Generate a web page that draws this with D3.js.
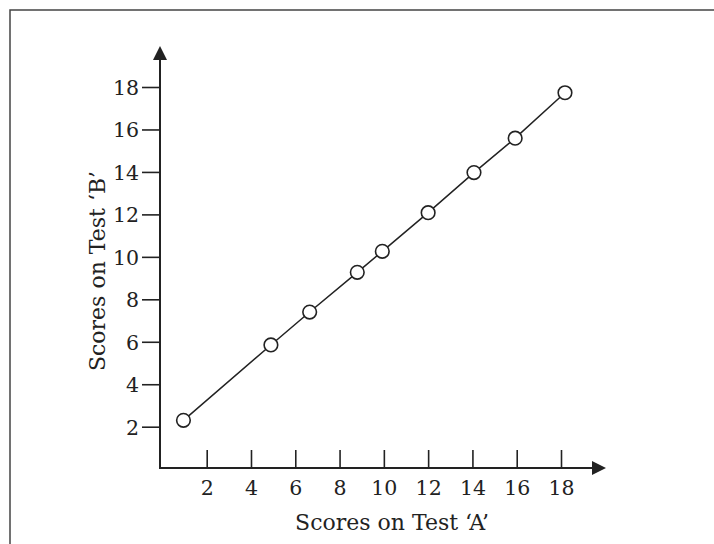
<!DOCTYPE html>
<html>
<head>
<meta charset="utf-8">
<script src="https://cdn.jsdelivr.net/npm/d3@7"></script>
<style>
  body { margin: 0; background: #fff; }
  text { font-family: "DejaVu Serif", "Liberation Serif", serif; fill: #222; }
</style>
</head>
<body>
<div id="chart"></div>
<script>
// scores
var scoresA = [0.95, 4.9, 6.65, 8.8, 9.93, 12.0, 14.07, 15.93, 18.18];
var scoresB = [2.3, 5.85, 7.4, 9.27, 10.26, 12.08, 13.97, 15.59, 17.73];
var xTicks = [2, 4, 6, 8, 10, 12, 14, 16, 18];
var yTicks = [2, 4, 6, 8, 10, 12, 14, 16, 18];
var xTitle = "Scores on Test \u2018A\u2019";
var yTitle = "Scores on Test \u2018B\u2019";

var width = 714, height = 544;
var ink = "#222";

var svg = d3.select("#chart").append("svg")
	.attr("width", width).attr("height", height);

// frame (only left and top edges show in the picture)
svg.append("rect")
	.attr("x", 10).attr("y", 10)
	.attr("width", width).attr("height", height)
	.attr("fill", "none").attr("stroke", "#444").attr("stroke-width", 1.5);

var originX = 160, originY = 468;

var x = d3.scaleLinear().domain([2, 18]).range([206.7, 561]);
var y = d3.scaleLinear().domain([2, 18]).range([426.7, 87]);

// axis lines
svg.append("line")
	.attr("x1", originX).attr("y1", originY)
	.attr("x2", originX).attr("y2", 58)
	.attr("stroke", ink).attr("stroke-width", 2);
svg.append("line")
	.attr("x1", originX - 1).attr("y1", originY)
	.attr("x2", 594).attr("y2", originY)
	.attr("stroke", ink).attr("stroke-width", 2);

// arrow heads
svg.append("path")
	.attr("d", "M" + originX + ",46 L" + (originX - 7) + ",60 L" + (originX + 7) + ",60 Z")
	.attr("fill", ink);
svg.append("path")
	.attr("d", "M606," + originY + " L592," + (originY - 7) + " L592," + (originY + 7) + " Z")
	.attr("fill", ink);

// x ticks, pointing up into the plot
var xAxis = d3.axisTop(x).tickValues(xTicks).tickSize(18).tickFormat("");
var gx = svg.append("g")
	.attr("transform", "translate(0," + originY + ")")
	.call(xAxis);
gx.select(".domain").remove();
gx.selectAll(".tick line").attr("stroke", ink).attr("stroke-width", 1.6);

gx.selectAll(".tick").append("text")
	.attr("y", 27)
	.attr("text-anchor", "middle")
	.attr("font-size", 20.5)
	.attr("fill", ink)
	.text(function(d) { return d; });

// y ticks, pointing left
var yAxis = d3.axisLeft(y).tickValues(yTicks).tickSize(18).tickFormat("");
var gy = svg.append("g")
	.attr("transform", "translate(" + originX + ",0)")
	.call(yAxis);
gy.select(".domain").remove();
gy.selectAll(".tick line").attr("stroke", ink).attr("stroke-width", 1.6);

gy.selectAll(".tick").append("text")
	.attr("x", -21)
	.attr("dy", "0.36em")
	.attr("text-anchor", "end")
	.attr("font-size", 20.5)
	.attr("fill", ink)
	.text(function(d) { return d; });

// axis titles
svg.append("text")
	.attr("x", 392).attr("y", 530)
	.attr("text-anchor", "middle")
	.attr("font-size", 22)
	.text(xTitle);

svg.append("text")
	.attr("transform", "translate(105,271) rotate(-90)")
	.attr("text-anchor", "middle")
	.attr("font-size", 22)
	.text(yTitle);

// line and points
var data = d3.zip(scoresA, scoresB);

var line = d3.line()
	.x(function(d) { return x(d[0]); })
	.y(function(d) { return y(d[1]); });

svg.append("path")
	.datum(data)
	.attr("d", line)
	.attr("fill", "none")
	.attr("stroke", ink)
	.attr("stroke-width", 1.5);

svg.selectAll(".pt")
	.data(data)
	.enter().append("circle")
	.attr("class", "pt")
	.attr("cx", function(d) { return x(d[0]); })
	.attr("cy", function(d) { return y(d[1]); })
	.attr("r", 6.8)
	.attr("fill", "#fff")
	.attr("stroke", ink)
	.attr("stroke-width", 1.6);
</script>
</body>
</html>
